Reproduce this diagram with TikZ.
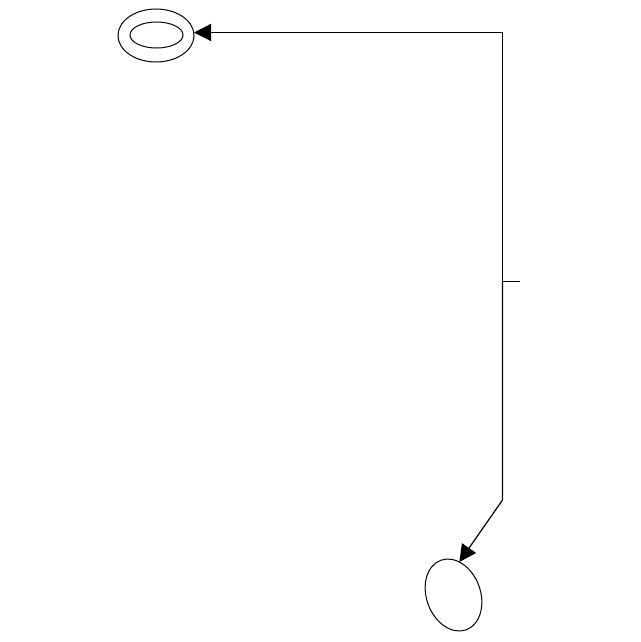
\documentclass[tikz,border=0pt]{standalone}
\usetikzlibrary{shapes.geometric,arrows.meta}
\begin{document}
\begin{tikzpicture}[x=1pt,y=1pt,
  oval/.style={ellipse,draw=black,line width=1pt,inner sep=0pt,outer sep=0pt},
  conn/.style={draw=black,line width=1.2pt},
  arr/.style={-{Triangle[length=17pt,width=17pt]}}]
\useasboundingbox[fill=white] (0,0) rectangle (640,-642);
\node[oval,minimum width=76pt,minimum height=53pt] (a) at (156,-35.5) {};
\node[oval,minimum width=53pt,minimum height=26pt] (ain) at (156.5,-35) {};
\node[oval,minimum width=54pt,minimum height=74pt,rotate=20] (b) at (453.5,-595) {};
\coordinate (j) at (502.5,-281.5);
\coordinate (c1) at (502.5,-32.5);
\coordinate (c2) at (502.5,-500);
\coordinate (t) at (520,-281.5);
\draw[conn,arr] (j) -- (c1) -- (a.east |- c1);
\draw[conn,arr] (j) -- (c2) -- (b.60);
\draw[conn] (j) -- (t);
\end{tikzpicture}
\end{document}
